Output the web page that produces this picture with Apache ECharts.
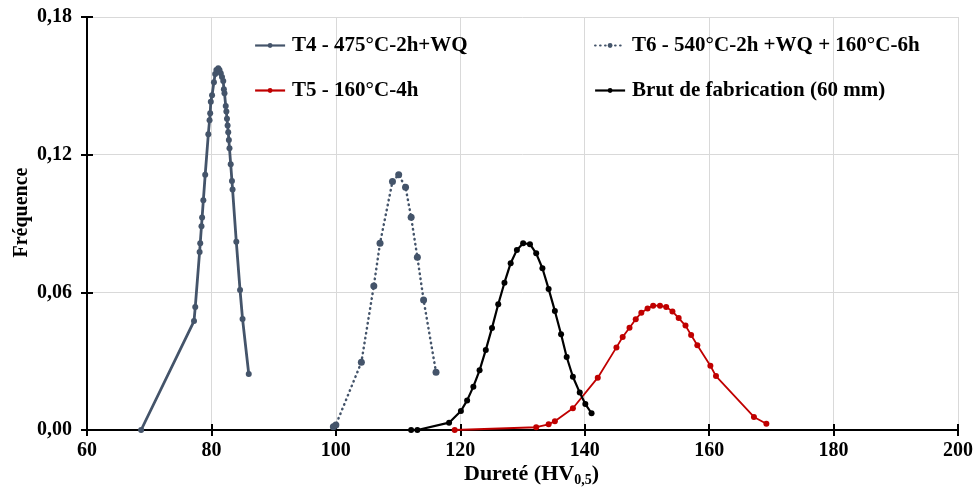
<!DOCTYPE html>
<html>
<head>
<meta charset="utf-8">
<script src="https://cdn.jsdelivr.net/npm/echarts@6/dist/echarts.min.js"></script>
<style>html,body{margin:0;padding:0;background:#fff}#c{width:975px;height:495px}</style>
</head>
<body>
<div id="c"></div>
<script>
// --- Data ---
const seriesNames = ['T4 - 475°C-2h+WQ', 'T6 - 540°C-2h +WQ + 160°C-6h', 'T5 - 160°C-4h', 'Brut de fabrication (60 mm)'];

const t4X = [68.7, 77.2, 77.4, 78.1, 78.2, 78.4, 78.5, 78.7, 79.0, 79.5, 79.7, 79.8, 79.9, 80.1, 80.4, 80.6, 80.8, 81.1, 81.3, 81.5, 81.7, 81.9, 82.0, 82.1, 82.3, 82.4, 82.5, 82.6, 82.7, 82.8, 82.9, 83.1, 83.3, 83.4, 84.0, 84.6, 85.0, 86.0];
const t4Y = [0.000, 0.0475, 0.0536, 0.0776, 0.0814, 0.0888, 0.0926, 0.1001, 0.1113, 0.1289, 0.1350, 0.1380, 0.1431, 0.1459, 0.1516, 0.1552, 0.1569, 0.1577, 0.1569, 0.1555, 0.1538, 0.1521, 0.1485, 0.1468, 0.1412, 0.1388, 0.1356, 0.1327, 0.1298, 0.1264, 0.1228, 0.1158, 0.1085, 0.1048, 0.0820, 0.0610, 0.0484, 0.0244];

const t6X = [99.6, 100.0, 104.1, 106.1, 107.1, 109.1, 110.1, 111.2, 112.1, 113.1, 114.1, 116.1];
const t6Y = [0.0014, 0.0022, 0.0295, 0.0628, 0.0814, 0.1083, 0.1112, 0.1058, 0.0927, 0.0753, 0.0567, 0.0252];

const t5X = [119.1, 132.2, 134.2, 135.2, 138.1, 142.1, 145.1, 146.1, 147.2, 148.2, 149.1, 150.1, 151.0, 152.1, 153.1, 154.1, 155.1, 156.2, 157.1, 158.1, 160.2, 161.1, 167.2, 169.2];
const t5Y = [0.000, 0.0012, 0.0025, 0.0038, 0.0095, 0.0228, 0.0360, 0.0405, 0.0446, 0.0483, 0.0511, 0.0530, 0.0542, 0.0542, 0.0536, 0.0517, 0.0488, 0.0455, 0.0414, 0.0369, 0.0280, 0.0235, 0.0057, 0.0027];

const brutX = [112.1, 113.1, 118.2, 120.1, 121.1, 122.1, 123.1, 124.1, 125.1, 126.1, 127.1, 128.1, 129.1, 130.1, 131.2, 132.2, 133.2, 134.2, 135.2, 136.2, 137.1, 138.1, 139.2, 140.1, 141.1];
const brutY = [0.000, 0.000, 0.0032, 0.0083, 0.0129, 0.0189, 0.0260, 0.0349, 0.0445, 0.0548, 0.0642, 0.0727, 0.0785, 0.0814, 0.0810, 0.0770, 0.0705, 0.0615, 0.0519, 0.0417, 0.0318, 0.0232, 0.0163, 0.0113, 0.0073];

const xTicks = [60, 80, 100, 120, 140, 160, 180, 200];
const yTickLabels = ['0,00', '0,06', '0,12', '0,18'];

// --- Chart ---
const pair = (xs, ys) => xs.map((x, i) => [x, ys[i]]);
const FONT = 'Liberation Serif';
const slate = '#44546A';
const chart = echarts.init(document.getElementById('c'), null, {renderer: 'canvas'});

const txt = (size) => ({fontFamily: FONT, fontWeight: 'bold', color: '#000', fontSize: size});

const legendCommon = {
  orient: 'vertical', top: 30, itemGap: 24,
  itemWidth: 30, itemHeight: 6,
  textStyle: Object.assign({padding: [0, 0, 0, 2]}, txt(21)),
  lineStyle: {width: 2.2}
};

chart.setOption({
  animation: false,
  backgroundColor: '#fff',
  grid: {left: 87, right: 17, top: 17, bottom: 65, containLabel: false, outerBoundsMode: 'none'},
  legend: [
    Object.assign({data: [seriesNames[0], seriesNames[2]], left: 249}, legendCommon),
    Object.assign({data: [seriesNames[1], seriesNames[3]], left: 589}, legendCommon)
  ],
  xAxis: [
    {
      type: 'value', min: xTicks[0], max: xTicks[xTicks.length - 1], interval: 20,
      name: '{a|Dureté (HV}{s|0,5}{a|)}', nameLocation: 'middle', nameGap: 31,
      nameMoveOverlap: false,
      nameTextStyle: {padding: [0, 0, 0, 18], rich: {
        a: txt(22),
        s: Object.assign({verticalAlign: 'bottom', padding: [12, 0, 0, 0]}, txt(14))
      }},
      axisLine: {lineStyle: {color: '#000', width: 2}},
      axisTick: {show: true, length: 6, lineStyle: {color: '#000', width: 2}},
      axisLabel: Object.assign({margin: 11}, txt(20)),
      splitLine: {show: true, lineStyle: {color: '#d9d9d9', width: 1}}
    },
    {
      type: 'value', min: xTicks[0], max: xTicks[xTicks.length - 1], interval: 20,
      position: 'bottom',
      axisLine: {show: false},
      axisTick: {show: true, inside: true, length: 6, lineStyle: {color: '#000', width: 2}},
      axisLabel: {show: false}, splitLine: {show: false}
    }
  ],
  yAxis: [
    {
      type: 'value', min: 0, max: 0.18, interval: 0.06,
      name: 'Fréquence', nameLocation: 'middle', nameGap: 55, nameRotate: 90,
      nameMoveOverlap: false,
      nameTextStyle: Object.assign({padding: [0, 0, 0, 22]}, txt(20)),
      axisLine: {show: true, lineStyle: {color: '#000', width: 2}},
      axisTick: {show: true, length: 6, lineStyle: {color: '#000', width: 2}},
      axisLabel: Object.assign({margin: 15, formatter: (v) => yTickLabels[Math.round(v / 0.06)]}, txt(20)),
      splitLine: {show: true, lineStyle: {color: '#d9d9d9', width: 1}}
    },
    {
      type: 'value', min: 0, max: 0.18, interval: 0.06, position: 'left',
      axisLine: {show: false},
      axisTick: {show: true, inside: true, length: 6, lineStyle: {color: '#000', width: 2}},
      axisLabel: {show: false}, splitLine: {show: false}
    }
  ],
  series: [
    {
      name: seriesNames[0], type: 'line', data: pair(t4X, t4Y),
      symbol: 'circle', symbolSize: 6, color: slate,
      lineStyle: {color: slate, width: 2.8}, itemStyle: {color: slate}, z: 3
    },
    {
      name: seriesNames[1], type: 'line', data: pair(t6X, t6Y),
      symbol: 'circle', symbolSize: 7, color: slate,
      lineStyle: {color: slate, width: 2.5, type: [0.5, 4.5], cap: 'round'}, itemStyle: {color: slate}, z: 3
    },
    {
      name: seriesNames[2], type: 'line', data: pair(t5X, t5Y),
      symbol: 'circle', symbolSize: 6, color: '#C00000',
      lineStyle: {color: '#C00000', width: 1.8}, itemStyle: {color: '#C00000'}, z: 3
    },
    {
      name: seriesNames[3], type: 'line', data: pair(brutX, brutY),
      symbol: 'circle', symbolSize: 6, color: '#000',
      lineStyle: {color: '#000', width: 2.2}, itemStyle: {color: '#000'}, z: 4
    }
  ]
});
</script>
</body>
</html>
